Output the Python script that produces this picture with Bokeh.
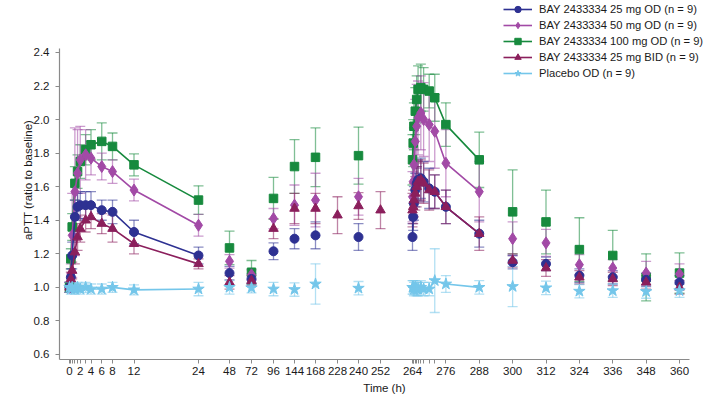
import numpy as np
from bokeh.plotting import figure
from bokeh.models import (ColumnDataSource, Range1d, FixedTicker, CustomJSTickFormatter,
                          PrintfTickFormatter, Whisker, TeeHead, Legend, LegendItem)
from bokeh.embed import file_html
from bokeh.resources import INLINE

# ---------------- data ----------------
T_DAY1 = [0, 0.25, 0.5, 1, 1.5, 2, 3, 4, 6, 8, 12, 24]
T_TROUGH1 = [48, 72, 96, 144, 168, 240]
T_BID_EXTRA = [228, 252]
T_DAY12 = [264, 264.25, 264.5, 265, 265.5, 266, 267, 268, 270, 272, 276, 288]
T_TROUGH2 = [300, 312, 324, 336, 348, 360]

X_TICKS_LABELED = [0, 2, 4, 6, 8, 12, 24, 48, 72, 96, 144, 168, 228, 240, 252,
                   264, 276, 288, 300, 312, 324, 336, 348, 360]
X_TICKS_MINOR = [0.25, 0.5, 1, 1.5, 3, 264.25, 264.5, 265, 265.5, 266, 267, 268, 270, 272]
Y_TICKS = [0.6, 0.8, 1.0, 1.2, 1.4, 1.6, 1.8, 2.0, 2.2, 2.4]

# BAY 2433334 25 mg OD
OD25_DAY1 = [1.00, 1.06, 1.19, 1.42, 1.48, 1.49, 1.49, 1.49, 1.46, 1.45, 1.33, 1.19]
OD25_DAY1_SD = [0.03, 0.05, 0.08, 0.10, 0.08, 0.08, 0.08, 0.08, 0.06, 0.07, 0.07, 0.05]
OD25_TR1 = [1.085, 1.05, 1.215, 1.29, 1.31, 1.30]
OD25_TR1_SD = [0.04, 0.03, 0.05, 0.06, 0.08, 0.08]
OD25_DAY12 = [1.30, 1.42, 1.50, 1.58, 1.62, 1.64, 1.65, 1.63, 1.59, 1.57, 1.48, 1.32]
OD25_DAY12_SD = [0.08, 0.08, 0.10, 0.10, 0.10, 0.12, 0.12, 0.12, 0.12, 0.10, 0.10, 0.08]
OD25_TR2 = [1.15, 1.14, 1.07, 1.06, 1.045, 1.03]
OD25_TR2_SD = [0.04, 0.04, 0.04, 0.04, 0.04, 0.04]

# BAY 2433334 50 mg OD
OD50_DAY1 = [1.00, 1.08, 1.31, 1.57, 1.68, 1.76, 1.79, 1.77, 1.72, 1.69, 1.58, 1.37]
OD50_DAY1_SD = [0.03, 0.06, 0.25, 0.38, 0.26, 0.20, 0.15, 0.10, 0.08, 0.07, 0.065, 0.065]
OD50_TR1 = [1.155, 1.075, 1.41, 1.49, 1.52, 1.54]
OD50_TR1_SD = [0.04, 0.03, 0.06, 0.12, 0.16, 0.11]
OD50_DAY12 = [1.54, 1.63, 1.73, 1.87, 1.96, 2.01, 2.04, 2.00, 1.97, 1.93, 1.74, 1.57]
OD50_DAY12_SD = [0.15, 0.20, 0.22, 0.25, 0.25, 0.22, 0.22, 0.22, 0.22, 0.22, 0.20, 0.18]
OD50_TR2 = [1.29, 1.265, 1.135, 1.115, 1.085, 1.08]
OD50_TR2_SD = [0.10, 0.08, 0.06, 0.05, 0.07, 0.06]

# BAY 2433334 100 mg OD
OD100_DAY1 = [1.00, 1.17, 1.36, 1.62, 1.69, 1.75, 1.82, 1.85, 1.87, 1.84, 1.73, 1.52]
OD100_DAY1_SD = [0.03, 0.06, 0.08, 0.10, 0.10, 0.10, 0.09, 0.09, 0.11, 0.08, 0.065, 0.085]
OD100_TR1 = [1.235, 1.09, 1.53, 1.72, 1.775, 1.785]
OD100_TR1_SD = [0.10, 0.07, 0.125, 0.16, 0.175, 0.17]
OD100_DAY12 = [1.76, 1.86, 1.96, 2.05, 2.12, 2.18, 2.19, 2.18, 2.17, 2.13, 1.97, 1.76]
OD100_DAY12_SD = [0.15, 0.14, 0.14, 0.14, 0.14, 0.14, 0.14, 0.13, 0.10, 0.14, 0.13, 0.165]
OD100_TR2 = [1.45, 1.39, 1.225, 1.19, 1.06, 1.085]
OD100_TR2_SD = [0.25, 0.19, 0.19, 0.15, 0.14, 0.12]

# BAY 2433334 25 mg BID (troughs include 228 h and 252 h)
BID25_DAY1 = [1.00, 1.05, 1.10, 1.21, 1.30, 1.35, 1.40, 1.42, 1.38, 1.35, 1.26, 1.14]
BID25_DAY1_SD = [0.03, 0.04, 0.05, 0.07, 0.08, 0.08, 0.07, 0.07, 0.06, 0.08, 0.06, 0.03]
BID25_TR1 = [1.03, 1.04, 1.35, 1.47, 1.47, 1.485]
BID25_TR1_SD = [0.04, 0.03, 0.06, 0.09, 0.09, 0.08]
BID25_EXTRA = [1.43, 1.46]
BID25_EXTRA_SD = [0.11, 0.11]
BID25_DAY12 = [1.46, 1.48, 1.52, 1.56, 1.60, 1.63, 1.64, 1.62, 1.58, 1.57, 1.48, 1.32]
BID25_DAY12_SD = [0.10, 0.10, 0.10, 0.10, 0.12, 0.12, 0.12, 0.12, 0.12, 0.10, 0.10, 0.10]
BID25_TR2 = [1.16, 1.115, 1.06, 1.05, 1.03, 1.00]
BID25_TR2_SD = [0.04, 0.05, 0.04, 0.04, 0.04, 0.04]

# Placebo OD
PBO_DAY1 = [1.00, 0.99, 1.00, 0.99, 1.00, 0.99, 1.00, 0.99, 0.99, 1.00, 0.985, 0.99]
PBO_DAY1_SD = [0.03, 0.03, 0.03, 0.03, 0.03, 0.03, 0.03, 0.03, 0.03, 0.03, 0.03, 0.04]
PBO_TR1 = [1.00, 0.997, 0.99, 0.987, 1.02, 0.995]
PBO_TR1_SD = [0.04, 0.03, 0.04, 0.04, 0.12, 0.04]
PBO_DAY12 = [1.00, 1.00, 0.99, 1.00, 0.99, 0.99, 1.00, 0.99, 0.99, 1.04, 1.02, 1.00]
PBO_DAY12_SD = [0.04, 0.04, 0.04, 0.04, 0.04, 0.04, 0.04, 0.04, 0.04, 0.19, 0.05, 0.04]
PBO_TR2 = [1.005, 0.997, 0.977, 0.98, 0.975, 0.98]
PBO_TR2_SD = [0.12, 0.04, 0.04, 0.04, 0.04, 0.04]

LABELS = ["BAY 2433334 25 mg OD (n = 9)", "BAY 2433334 50 mg OD (n = 9)",
          "BAY 2433334 100 mg OD (n = 9)", "BAY 2433334 25 mg BID (n = 9)",
          "Placebo OD (n = 9)"]

# ---------------- broken time axis (piecewise scale) ----------------
AXIS_T = [0, 24, 48, 72, 96, 144, 168, 228, 240, 252, 264, 360]
AXIS_X = [0, 129, 160, 182, 204, 225, 246, 268, 289, 311, 343, 610]


def disp(t):
    return np.interp(np.asarray(t, dtype=float), AXIS_T, AXIS_X)


FONT = "Liberation Sans"

p = figure(width=709, height=400, output_backend="svg", toolbar_location=None,
           x_range=Range1d(-10, 640), y_range=Range1d(0.570, 2.7097),
           min_border_left=59, min_border_right=0, min_border_top=0, min_border_bottom=41)
p.outline_line_color = None
p.xgrid.visible = False
p.ygrid.visible = False
p.background_fill_color = "white"

major_d = [float(v) for v in disp(X_TICKS_LABELED)]
p.xaxis.ticker = FixedTicker(ticks=major_d, minor_ticks=[float(v) for v in disp(X_TICKS_MINOR)])
p.xaxis.formatter = CustomJSTickFormatter(
    args=dict(pos=major_d, labs=[str(v) for v in X_TICKS_LABELED]),
    code="""for (let i = 0; i < pos.length; i++) { if (Math.abs(pos[i] - tick) < 0.01) return labs[i]; } return "";""")
p.xaxis.bounds = (-10, 620)
p.yaxis.ticker = FixedTicker(ticks=Y_TICKS)
p.yaxis.formatter = PrintfTickFormatter(format="%.1f")
p.yaxis.bounds = (0.570, 2.424)

for ax in (p.xaxis[0], p.yaxis[0]):
    ax.axis_line_color = "#8a8a8a"
    ax.axis_line_width = 1.2
    ax.major_tick_line_color = "#8a8a8a"
    ax.minor_tick_line_color = "#8a8a8a"
    ax.major_tick_out = 4
    ax.major_tick_in = 0
    ax.minor_tick_out = 4
    ax.minor_tick_in = 0
    ax.major_label_text_font = FONT
    ax.major_label_text_font_size = "11.5px"
    ax.major_label_text_color = "#1a1a1a"
    ax.axis_label_text_font = FONT
    ax.axis_label_text_font_size = "11.5px"
    ax.axis_label_text_font_style = "normal"
    ax.axis_label_text_color = "#1a1a1a"

p.xaxis.axis_label = "Time (h)"
p.yaxis.axis_label = "aPTT (ratio to baseline)"
p.xaxis.major_label_standoff = 3
p.xaxis.axis_label_standoff = 4
p.yaxis.major_label_standoff = 6
p.yaxis.axis_label_standoff = -3

groups = [
    ("#178a3e", "square", 8.5, T_DAY1 + T_TROUGH1 + T_DAY12 + T_TROUGH2,
     OD100_DAY1 + OD100_TR1 + OD100_DAY12 + OD100_TR2,
     OD100_DAY1_SD + OD100_TR1_SD + OD100_DAY12_SD + OD100_TR2_SD, OD100_DAY1, OD100_DAY12, 2),
    ("#a24aa6", "diamond", 12, T_DAY1 + T_TROUGH1 + T_DAY12 + T_TROUGH2,
     OD50_DAY1 + OD50_TR1 + OD50_DAY12 + OD50_TR2,
     OD50_DAY1_SD + OD50_TR1_SD + OD50_DAY12_SD + OD50_TR2_SD, OD50_DAY1, OD50_DAY12, 1),
    ("#2e3192", "circle", 9, T_DAY1 + T_TROUGH1 + T_DAY12 + T_TROUGH2,
     OD25_DAY1 + OD25_TR1 + OD25_DAY12 + OD25_TR2,
     OD25_DAY1_SD + OD25_TR1_SD + OD25_DAY12_SD + OD25_TR2_SD, OD25_DAY1, OD25_DAY12, 0),
    ("#8b1f5c", "triangle", 9.5, T_DAY1 + T_TROUGH1 + T_BID_EXTRA + T_DAY12 + T_TROUGH2,
     BID25_DAY1 + BID25_TR1 + BID25_EXTRA + BID25_DAY12 + BID25_TR2,
     BID25_DAY1_SD + BID25_TR1_SD + BID25_EXTRA_SD + BID25_DAY12_SD + BID25_TR2_SD,
     BID25_DAY1, BID25_DAY12, 3),
    ("#74c6ea", "star", 12, T_DAY1 + T_TROUGH1 + T_DAY12 + T_TROUGH2,
     PBO_DAY1 + PBO_TR1 + PBO_DAY12 + PBO_TR2,
     PBO_DAY1_SD + PBO_TR1_SD + PBO_DAY12_SD + PBO_TR2_SD, PBO_DAY1, PBO_DAY12, 4),
]

legend_items = [None] * 5
for color, marker, size, ts, ys, sds, d1, d12, li in groups:
    ys = np.asarray(ys, float)
    sds = np.asarray(sds, float)
    src = ColumnDataSource(dict(x=disp(ts), y=ys, lo=ys - sds, hi=ys + sds))
    w = Whisker(source=src, base="x", upper="hi", lower="lo", dimension="height",
                line_color=color, line_alpha=0.55, line_width=1.3,
                upper_head=TeeHead(size=10, line_color=color, line_alpha=0.55, line_width=1.3),
                lower_head=TeeHead(size=10, line_color=color, line_alpha=0.55, line_width=1.3))
    p.add_layout(w)
    ln = p.multi_line(xs=[disp(T_DAY1), disp(T_DAY12)], ys=[d1, d12],
                      line_color=color, line_width=1.6)
    sc = p.scatter(x="x", y="y", source=src, marker=marker, size=size,
                   fill_color=color, line_color=color)
    legend_items[li] = LegendItem(label=LABELS[li], renderers=[ln, sc])

legend = Legend(items=legend_items, location=(444, 278), orientation="vertical",
                border_line_color=None, background_fill_alpha=0, padding=0, margin=0,
                spacing=0, glyph_width=29, glyph_height=16, label_height=16,
                label_standoff=7, label_text_font=FONT, label_text_font_size="11.2px",
                label_text_color="#1a1a1a")
p.add_layout(legend)

open("out.html", "w").write(file_html(p, INLINE))
